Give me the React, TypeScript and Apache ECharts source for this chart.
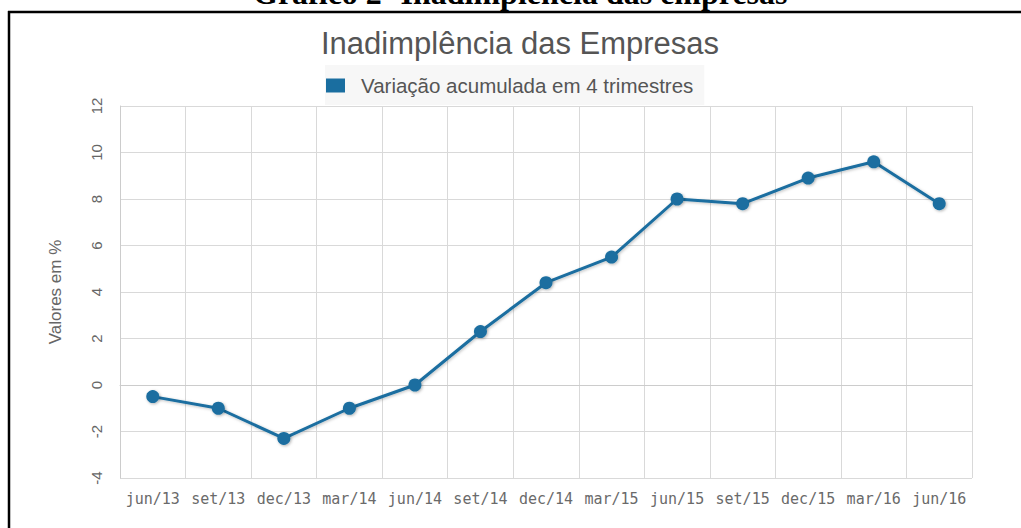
import React, { useEffect, useRef } from "react";
import * as echarts from "echarts";

const categories = ["jun/13", "set/13", "dec/13", "mar/14", "jun/14", "set/14", "dec/14", "mar/15", "jun/15", "set/15", "dec/15", "mar/16", "jun/16"];
const values = [-0.5, -1.0, -2.3, -1.0, 0.0, 2.3, 4.4, 5.5, 8.0, 7.8, 8.9, 9.6, 7.8];
const seriesName = "Variação acumulada em 4 trimestres";
const chartTitle = "Inadimplência das Empresas";
const docTitle = "Gráfico 2- Inadimplência das empresas";
const yAxisName = "Valores em %";

export default function App() {
  const ref = useRef<HTMLDivElement>(null);
  useEffect(() => {
    document.body.style.margin = "0";
    const chart = echarts.init(ref.current!, null, { renderer: "svg" });
    chart.setOption({
      animation: false,
      backgroundColor: "#ffffff",
      title: {
        text: chartTitle,
        left: 316,
        top: 23,
        textStyle: { fontFamily: "Liberation Sans", fontSize: 31, fontWeight: "normal", color: "#555555" },
      },
      legend: {
        data: [seriesName],
        left: 325,
        top: 65,
        padding: [10, 11, 9, 1],
        backgroundColor: "#f7f7f7",
        icon: "rect",
        itemWidth: 19,
        itemHeight: 14,
        itemGap: 15,
        textStyle: { fontFamily: "Liberation Sans", fontSize: 20.5, color: "#555555", padding: [0, 0, 0, 11] },
      },
      grid: { left: 120, right: 49, top: 106, bottom: 50, containLabel: false },
      xAxis: {
        type: "category",
        data: categories,
        boundaryGap: true,
        axisLine: { show: true, lineStyle: { color: "#cccccc", width: 1 } },
        axisTick: { show: false },
        splitLine: { show: true, interval: 0, lineStyle: { color: "#d9d9d9", width: 1 } },
        axisLabel: { interval: 0, margin: 13, fontFamily: "DejaVu Sans Mono", fontSize: 15, color: "#6a6a6a" },
      },
      yAxis: {
        type: "value",
        min: -4,
        max: 12,
        interval: 2,
        name: yAxisName,
        nameLocation: "middle",
        nameRotate: 90,
        nameGap: 56,
        nameTextStyle: { fontFamily: "Liberation Sans", fontSize: 17, color: "#666666" },
        axisLine: { show: true, lineStyle: { color: "#cccccc", width: 1 } },
        axisTick: { show: false },
        splitLine: { show: true, lineStyle: { color: "#d9d9d9", width: 1 } },
        axisLabel: { rotate: 90, margin: 16, fontFamily: "Liberation Sans", fontSize: 15, color: "#666666" },
      },
      series: [
        {
          name: seriesName,
          type: "line",
          data: values,
          symbol: "circle",
          symbolSize: 13,
          lineStyle: { color: "#1a6ea0", width: 3, shadowColor: "rgba(0,0,0,0.25)", shadowBlur: 3, shadowOffsetX: 1, shadowOffsetY: 1 },
          itemStyle: { color: "#1a6ea0", shadowColor: "rgba(0,0,0,0.3)", shadowBlur: 3, shadowOffsetX: 1, shadowOffsetY: 1 },
        },
      ],
      graphic: [
        {
          type: "text",
          left: 253,
          top: -23,
          style: { text: docTitle, fontFamily: "Liberation Serif", fontSize: 32, fontWeight: "bold", fill: "#000000" },
        },
        { type: "line", shape: { x1: 8, y1: 12, x2: 1021, y2: 12 }, style: { stroke: "#000000", lineWidth: 2.5 } },
        { type: "line", shape: { x1: 9, y1: 11, x2: 9, y2: 528 }, style: { stroke: "#000000", lineWidth: 2.5 } },
      ],
    });
    return () => chart.dispose();
  }, []);
  return <div ref={ref} style={{ position: "absolute", left: 0, top: 0, width: 1021, height: 528 }} />;
}
